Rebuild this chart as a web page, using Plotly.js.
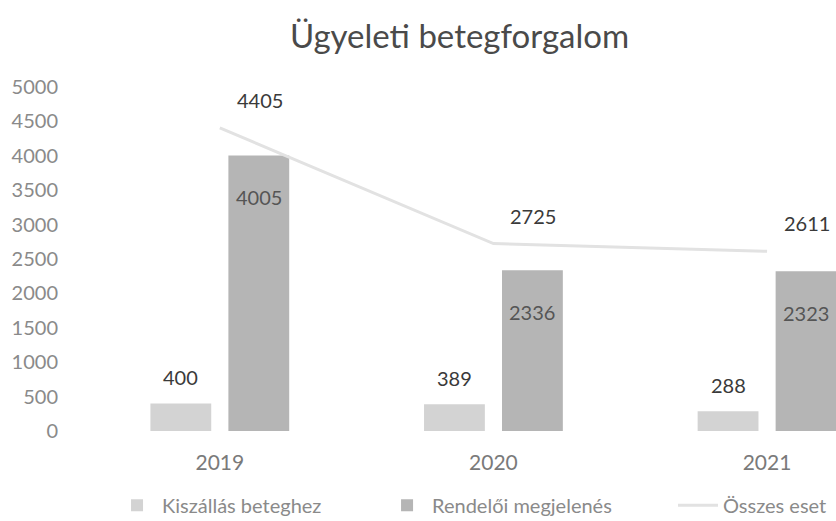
<!DOCTYPE html>
<html>
<head>
<meta charset="utf-8">
<script src="https://cdn.plot.ly/plotly-3.0.1.min.js"></script>
<style>html,body{margin:0;padding:0;background:#fff;}#chart{width:836px;height:521px;}</style>
</head>
<body>
<div id="chart"></div>
<script>
const categories = ['2019', '2020', '2021'];
const kiszallas = [400, 389, 288];
const rendeloi = [4005, 2336, 2323];
const osszes = [4405, 2725, 2611];
const yTicks = [0, 500, 1000, 1500, 2000, 2500, 3000, 3500, 4000, 4500, 5000];
const seriesNames = ['Kiszállás beteghez', 'Rendelői megjelenés', 'Összes eset'];

const FONT = 'Lato, "Open Sans", sans-serif';

const traces = [
  {
    type: 'bar', name: seriesNames[0], x: categories, y: kiszallas,
    marker: {color: '#d3d3d3'}, hoverinfo: 'skip', legend: 'legend'
  },
  {
    type: 'bar', name: seriesNames[1], x: categories, y: rendeloi,
    marker: {color: '#b5b5b5'}, hoverinfo: 'skip', legend: 'legend2'
  },
  {
    type: 'scatter', mode: 'lines', name: seriesNames[2], x: categories, y: osszes,
    line: {color: '#e2e2e2', width: 3}, hoverinfo: 'skip', legend: 'legend3'
  }
];

const annotations = [];
categories.forEach((c, i) => {
  annotations.push({x: i, y: kiszallas[i], xref: 'x', yref: 'y', text: String(kiszallas[i]),
    showarrow: false, xshift: -39, yshift: 26, yanchor: 'middle',
    font: {family: FONT, size: 20, color: '#3a3a3a'}});
  annotations.push({x: i, y: rendeloi[i], xref: 'x', yref: 'y', text: String(rendeloi[i]),
    showarrow: false, xshift: 39, yshift: -42, yanchor: 'middle',
    font: {family: FONT, size: 20, color: '#555555'}});
  annotations.push({x: i, y: osszes[i], xref: 'x', yref: 'y', text: String(osszes[i]),
    showarrow: false, xshift: 40, yshift: 28, yanchor: 'middle',
    font: {family: FONT, size: 20, color: '#3a3a3a'}});
});

const legendBase = {
  orientation: 'h', xref: 'container', xanchor: 'left', yref: 'paper', y: -0.216, yanchor: 'middle',
  itemwidth: 40, font: {family: FONT, size: 20, color: '#8a8a8a'}, bgcolor: 'rgba(0,0,0,0)'
};

const layout = {
  width: 836, height: 521,
  margin: {l: 83, r: 0, t: 87, b: 90, pad: 0, autoexpand: false},
  paper_bgcolor: '#ffffff', plot_bgcolor: '#ffffff',
  font: {family: FONT, color: '#555'},
  title: {text: 'Ügyeleti betegforgalom', xref: 'paper', x: 0.5, xanchor: 'center',
          yref: 'container', y: 0.93, yanchor: 'middle',
          font: {family: FONT, size: 33, color: '#4a4a4a'}},
  barmode: 'group', bargap: 0.43, bargroupgap: 0.22,
  xaxis: {type: 'category', range: [-0.5, 2.252], showgrid: false, zeroline: false,
          showline: false, ticks: '', ticklabelstandoff: 17,
          tickfont: {family: FONT, size: 21, color: '#7a7a7a'}, fixedrange: true},
  yaxis: {range: [0, 5000], tickvals: yTicks, ticktext: yTicks.map(String),
          showgrid: false, zeroline: false, showline: false, ticks: '',
          ticklabelstandoff: 24,
          tickfont: {family: FONT, size: 20, color: '#8a8a8a'}, fixedrange: true},
  showlegend: true,
  legend: Object.assign({}, legendBase, {x: 0.134}),
  legend2: Object.assign({}, legendBase, {x: 0.457}),
  legend3: Object.assign({}, legendBase, {x: 0.805}),
  annotations: annotations
};

Plotly.newPlot('chart', traces, layout, {displayModeBar: false, staticPlot: true});
</script>
</body>
</html>
